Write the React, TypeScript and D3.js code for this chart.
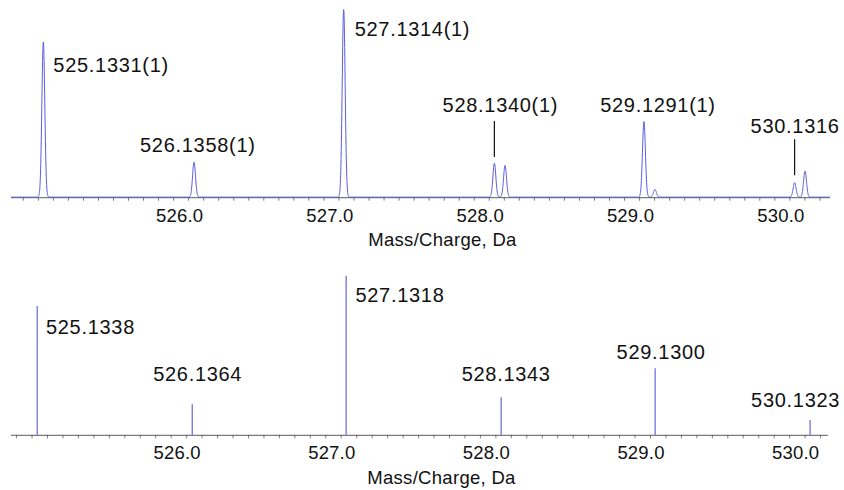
import React from "react";
import * as d3 from "d3";

const W = 844;
const H = 490;

// Measured profile spectrum: peak centroids (m/z) and relative intensities (%)
const profileMz = [525.1331, 526.1358, 527.1314, 528.134, 528.205, 529.1291, 529.202, 530.1316, 530.201];
const profileInt = [82.6, 18.6, 100, 18.0, 16.9, 40.2, 4.1, 7.7, 13.9];
const peakSigma = 0.0098; // Da

// Annotated measured peaks
const measuredLabelMz = [525.1331, 526.1358, 527.1314, 528.134, 529.1291, 530.1316];
const measuredLabelInt = [82.6, 18.6, 100, 18.0, 40.2, 7.7];
const measuredLabels = ["525.1331(1)", "526.1358(1)", "527.1314(1)", "528.1340(1)", "529.1291(1)", "530.1316"];

// Theoretical isotope pattern (stick spectrum)
const theoMz = [525.1338, 526.1364, 527.1318, 528.1343, 529.13, 530.1323];
const theoInt = [81, 19.4, 100, 23.8, 42, 9.6];
const theoLabels = ["525.1338", "526.1364", "527.1318", "528.1343", "529.1300", "530.1323"];

// Axis
const tickLabelValues = [526, 527, 528, 529, 530];
const tickLabels = ["526.0", "527.0", "528.0", "529.0", "530.0"];
const axisTitle = "Mass/Charge, Da";
const topDomain = [524.918, 530.367];
const bottomDomain = [524.964, 530.248];

// Label placement relative to each peak apex (px)
const topLabelLayout = [
  { anchor: "start", dx: 10, dy: 29, leader: null },
  { anchor: "start", dx: -54, dy: -10.7, leader: null },
  { anchor: "start", dx: 11, dy: 25.7, leader: null },
  { anchor: "middle", dx: 6, dy: -51.6, leader: [-43, -7] },
  { anchor: "middle", dx: 14, dy: -10, leader: null },
  { anchor: "middle", dx: 0.5, dy: -50.6, leader: [-44, -8] },
];
const bottomLabelLayout = [
  { anchor: "start", dx: 8.7, dy: 28 },
  { anchor: "middle", dx: 5.4, dy: -23.6 },
  { anchor: "start", dx: 9.3, dy: 26 },
  { anchor: "middle", dx: 5, dy: -16.6 },
  { anchor: "middle", dx: 6, dy: -9.3 },
  { anchor: "middle", dx: -14.5, dy: -13.3 },
];

const FONT = "'Liberation Sans', Arial, Helvetica, sans-serif";
const PROFILE_COLOR = "#5c5ce0";
const STICK_COLOR = "#7c7ce2";
const AXIS_COLOR = "#5a5a5a";

function Axis({ x, y0 }: { x: d3.ScaleLinear<number, number>; y0: number }) {
  const [r0, r1] = x.range();
  const minor = x.ticks(50);
  return (
    <g>
      <line x1={r0} x2={r1} y1={y0} y2={y0} stroke={AXIS_COLOR} strokeWidth={1} />
      {minor.map((t, i) => (
        <line key={i} x1={x(t)} x2={x(t)} y1={y0 - 0.5} y2={y0 + 3} stroke={AXIS_COLOR} strokeWidth={0.8} />
      ))}
      {tickLabelValues.map((v, i) => (
        <text
          key={i}
          x={x(v) + 6}
          y={y0 + 24}
          textAnchor="middle"
          fontFamily={FONT}
          fontSize={18.5}
          letterSpacing={0.2}
          fill="#111"
        >
          {tickLabels[i]}
        </text>
      ))}
      <text
        x={(r0 + r1) / 2 + 22}
        y={y0 + 48.5}
        textAnchor="middle"
        fontFamily={FONT}
        fontSize={18.5}
        letterSpacing={0.3}
        fill="#111"
      >
        {axisTitle}
      </text>
    </g>
  );
}

export default function App() {
  const xTop = d3.scaleLinear().domain(topDomain).range([11, 830]);
  const yTop = d3.scaleLinear().domain([0, 100]).range([197.7, 10]);
  const xBot = d3.scaleLinear().domain(bottomDomain).range([11, 828]);
  const yBot = d3.scaleLinear().domain([0, 100]).range([435.3, 275.7]);

  // Profile trace: each centroid rendered with a Gaussian peak shape
  const step = 0.001;
  const grid = d3.range(topDomain[0], topDomain[1] + step / 2, step);
  const profile = grid.map((m) => {
    let s = 0;
    for (let i = 0; i < profileMz.length; i++) {
      const z = (m - profileMz[i]) / peakSigma;
      if (Math.abs(z) < 8) s += profileInt[i] * Math.exp(-0.5 * z * z);
    }
    return [m, s] as [number, number];
  });
  const line = d3
    .line<[number, number]>()
    .x((d) => xTop(d[0]))
    .y((d) => yTop(d[1]) - 0.6);

  return (
    <svg
      width={W}
      height={H}
      viewBox={`0 0 ${W} ${H}`}
      style={{ position: "absolute", left: 0, top: 0, background: "#fff" }}
    >
      <rect width={W} height={H} fill="#fff" />

      {/* Measured spectrum */}
      <Axis x={xTop} y0={197.7} />
      <path d={line(profile) || ""} fill="none" stroke={PROFILE_COLOR} strokeWidth={1} />
      {measuredLabels.map((lab, i) => {
        const px = xTop(measuredLabelMz[i]);
        const py = yTop(measuredLabelInt[i]);
        const L = topLabelLayout[i];
        return (
          <g key={i}>
            <text
              x={px + L.dx}
              y={py + L.dy}
              textAnchor={L.anchor as any}
              fontFamily={FONT}
              fontSize={20}
              letterSpacing={0.7}
              fill="#111"
            >
              {lab}
            </text>
            {L.leader && (
              <line x1={px} x2={px} y1={py + L.leader[0]} y2={py + L.leader[1]} stroke="#111" strokeWidth={1.2} />
            )}
          </g>
        );
      })}

      {/* Theoretical spectrum */}
      <Axis x={xBot} y0={435.3} />
      {theoMz.map((m, i) => (
        <line
          key={i}
          x1={xBot(m)}
          x2={xBot(m)}
          y1={yBot(0)}
          y2={yBot(theoInt[i])}
          stroke={STICK_COLOR}
          strokeWidth={1.4}
        />
      ))}
      {theoLabels.map((lab, i) => {
        const L = bottomLabelLayout[i];
        return (
          <text
            key={i}
            x={xBot(theoMz[i]) + L.dx}
            y={yBot(theoInt[i]) + L.dy}
            textAnchor={L.anchor as any}
            fontFamily={FONT}
            fontSize={20}
            letterSpacing={0.7}
            fill="#111"
          >
            {lab}
          </text>
        );
      })}
    </svg>
  );
}
